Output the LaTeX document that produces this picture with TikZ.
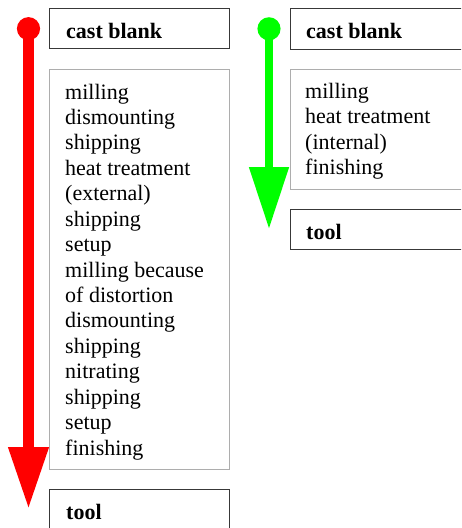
\documentclass[tikz,border=0pt]{standalone}
\usepackage{fontspec}
\setmainfont{Liberation Serif}
\usetikzlibrary{arrows.meta}
\begin{document}
\begin{tikzpicture}[x=1pt,y=-1pt,
  titlebox/.style={draw=black!78, line width=1.3pt, inner sep=0pt, anchor=north west},
  listbox/.style={draw=black!32, line width=1.3pt, inner sep=0pt, anchor=north west},
  titletext/.style={anchor=base west, inner sep=0pt, font=\fontsize{22}{26}\selectfont\bfseries},
  itemtext/.style={anchor=base west, inner sep=0pt, font=\fontsize{22}{26}\selectfont},
  flow/.style={line width=#1, {Circle[length=23pt,width=23pt]}-{Triangle[length=62pt,width=38pt]}},
]
\useasboundingbox (0,0) rectangle (461,528);
\clip (0,0) rectangle (461,528);
% left column boxes
\node[titlebox, minimum width=180pt, minimum height=40pt] (castL) at (49,8) {};
\node[listbox, minimum width=180pt, minimum height=400pt] (listL) at (49,69) {};
\node[titlebox, minimum width=180pt, minimum height=50pt] (toolL) at (49,489) {};
% right column boxes
\node[titlebox, minimum width=180pt, minimum height=41pt] (castR) at (290,8) {};
\node[listbox, minimum width=180pt, minimum height=120pt] (listR) at (290,69) {};
\node[titlebox, minimum width=180pt, minimum height=40pt] (toolR) at (290,209) {};
% titles
\node[titletext] (tcastL) at (66,38) {cast blank};
\node[titletext] (ttoolL) at (66,519) {tool};
\node[titletext] (tcastR) at (306,38) {cast blank};
\node[titletext] (ttoolR) at (306,239) {tool};
% lists
\foreach \t [count=\i from 0] in {milling, dismounting, shipping, heat treatment, (external), shipping, setup, milling because, of distortion, dismounting, shipping, nitrating, shipping, setup, finishing}
  \node[itemtext] (l\i) at (65,{99+25.43*\i}) {\t};
\foreach \t [count=\i from 0] in {milling, heat treatment, (internal), finishing}
  \node[itemtext] (r\i) at (305,{98.5+25.43*\i}) {\t};
% arrows
\coordinate (rstart) at (28.5,17.2);
\coordinate (rend) at (28.5,509);
\draw[red, flow=10.5pt] (rstart) -- (rend);
\coordinate (gstart) at (269,17.3);
\coordinate (gend) at (269,229);
\draw[green, flow=8pt] (gstart) -- (gend);
\end{tikzpicture}
\end{document}
